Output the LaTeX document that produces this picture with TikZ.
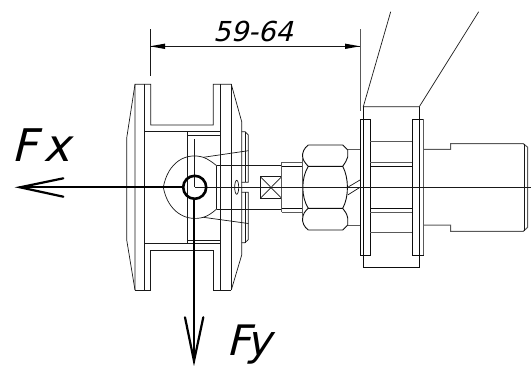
\documentclass[tikz,border=0pt]{standalone}
\usepackage{fontspec}
\setmainfont{DejaVu Sans}
\newfontfamily\slantlab[FakeSlant=0.25]{DejaVu Sans}
\tikzset{
  every picture/.style={x=1pt,y=-1pt},
  ln/.style={line width=0.7pt,black!90},
  hv/.style={line width=0.9pt,black!95},
  gr/.style={line width=1pt,black!65},
  force/.style={line width=2.2pt,black,line cap=round},
  lab/.style={font=\slantlab\fontsize{45}{45}\selectfont,inner sep=0pt,anchor=base west},
  laby/.style={font=\slantlab\fontsize{42}{42}\selectfont,inner sep=0pt,anchor=base west},
  dimtext/.style={font=\slantlab\fontsize{27.5}{28}\selectfont,inner sep=0pt,anchor=base},
  dimtip/.style={black,fill=black}
}
\begin{document}
\begin{tikzpicture}
\useasboundingbox (0,0) rectangle (531,365);
% --- dimension
\coordinate (dl) at (150,46.3);
\coordinate (dr) at (360,46.3);
\draw[ln] (150,29) -- (150,76);
\draw[gr] (360,29) -- (360,110.7);
\draw[ln] (dl) -- (dr);
\fill[dimtip] (dl) -- (165,43.6) -- (165,49) -- cycle;
\fill[dimtip] (dr) -- (345,43.6) -- (345,49) -- cycle;
\node[dimtext] (dim) at (253,41) {59-64};
% --- slanted lines
\draw[ln] (390.7,11.7) -- (363.3,106.7) -- (419.3,106.7) -- (478.7,11.7);
% --- left flange
\draw[ln] (135,84.3) -- (126.7,138) -- (126.7,240) -- (135,290);
\draw[ln] (135,290) -- (135,84.3) -- (150.7,84.3) -- (150.7,125) -- (213.3,125) -- (213.3,84.3) -- (231.3,84.3) -- (241.7,121.7) -- (241.7,255) -- (231.3,290);
\draw[ln] (144.3,84.3) -- (144.3,290);
\draw[ln] (135,290) -- (150.7,290) -- (150.7,250.7) -- (213.3,250.7) -- (213.3,290) -- (231.3,290);
\draw[ln] (220.7,84.3) -- (220.7,290);
\draw[ln] (231.3,84.3) -- (231.3,290);
\draw[ln] (144.3,131.7) -- (220.7,131.7);
\draw[ln] (144.3,243.3) -- (220.7,243.3);
% --- inner box
\draw[ln] (187.7,131.7) -- (187.7,243.3);
\draw[ln] (187.7,135.7) -- (220.7,135.7);
\draw[ln] (187.7,240) -- (220.7,240);
% --- pads
\draw[ln] (241.7,131.7) -- (245,131.7) -- (248.3,135) -- (248.3,182.3) -- (241.7,182.3);
\draw[ln] (241.7,192.3) -- (248.3,192.3) -- (248.3,239.5) -- (245,242.7) -- (241.7,242.7);
\draw[ln] (245,131.7) -- (245,182.3);
\draw[ln] (245,192.3) -- (245,242.7);
% --- eye
\coordinate (ctr) at (194.7,187.3);
\draw[ln] (216.7,165.7) .. controls (212,162) and (208,159) .. (203.3,157.3)
  .. controls (186,152) and (168,162) .. (163.3,187.3)
  .. controls (168,212) and (186,222) .. (203.3,217.3)
  .. controls (208,216) and (212,213) .. (216.7,209);
\draw[ln] (203.3,157.3) -- (248.3,150.7);
\draw[ln] (203.3,217.3) -- (248.3,223.5);
\draw[ln] (216.7,165.7) -- (216.7,209);
\draw[ln] (216.7,165.7) -- (281.7,165.7);
\draw[ln] (216.7,209) -- (281.7,209);
\draw[ln] (236.7,187.3) ellipse [x radius=2,y radius=7];
% --- square drive
\draw[ln] (260.3,176.7) rectangle (281.7,198.3);
\draw[ln] (260.3,176.7) -- (281.7,198.3);
\draw[ln] (260.3,198.3) -- (281.7,176.7);
% --- neck
\draw[gr] (281.7,212) -- (281.7,162.7) -- (302.7,162.7);
\draw[gr] (281.7,212) -- (302.7,212);
\draw[hv] (281.7,166.3) -- (302.7,166.3);
\draw[hv] (281.7,208.3) -- (302.7,208.3);
% --- nut
\draw[hv] (308.3,145) -- (342.7,145) -- (347.7,150);
\draw[hv] (308.3,230) -- (342.7,230) -- (347.7,225);
\draw[hv] (308.3,145) .. controls (304,148) and (302,153) .. (302.7,157)
  .. controls (303,160) and (305,163) .. (308.3,166.3)
  -- (342.7,166.3)
  .. controls (345,163) and (347,160) .. (347.7,157) -- (347.7,150);
\draw[hv] (308.3,230) .. controls (304,227) and (302,222) .. (302.7,218)
  .. controls (303,214) and (305,211) .. (308.3,208.3)
  -- (342.7,208.3)
  .. controls (345,211) and (347,214) .. (347.7,218) -- (347.7,225);
\draw[hv] (308.3,166.3) .. controls (301,178) and (301,197) .. (308.3,208.3);
\draw[hv] (342.7,166.3) .. controls (349,178) and (349,197) .. (342.7,208.3);
\draw[gr] (302.7,157) -- (302.7,218);
% --- washer
\draw[gr] (347.7,149.7) -- (360,149.7);
\draw[gr] (347.7,225) -- (360,225);
\draw[ln] (347.7,187.3) -- (360,180);
\draw[ln] (347.7,195) -- (360,187.3);
% --- outer plates
\draw[gr] (360,119.3) -- (360,255.3);
\draw[hv] (360,119.3) rectangle (370.3,255.3);
\draw[hv] (363.3,119.3) -- (363.3,106.7);
\draw[hv] (363.3,119.3) -- (363.3,255.3);
\draw[hv] (412.3,119.3) rectangle (423,255.3);
\draw[hv] (419.3,119.3) -- (419.3,106.7);
\draw[gr] (423,119.3) -- (423,255.3);
\draw[hv] (419.3,119.3) -- (419.3,255.3);
\draw[hv] (363.3,255.3) -- (363.3,267.3) -- (419.3,267.3) -- (419.3,255.3);
% --- between plates
\draw[gr] (370.3,141.7) -- (412.3,141.7);
\draw[gr] (370.3,162.7) -- (412.3,162.7);
\draw[hv] (370.3,166) -- (412.3,166);
\draw[hv] (370.3,208.3) -- (412.3,208.3);
\draw[gr] (370.3,212.3) -- (412.3,212.3);
\draw[gr] (370.3,232.7) -- (412.3,232.7);
% --- right shaft
\draw[gr] (423,149.3) -- (450.7,149.3) -- (450.7,143.7) -- (523.3,143.7) -- (527.7,147.3) -- (527.7,227.3) -- (523.3,231.3) -- (450.7,231.3) -- (450.7,225) -- (423,225);
\draw[ln] (524.3,143.7) -- (524.3,231.3);
% --- centre lines
\draw[ln] (ctr) -- (531,187.3);
\draw[ln] (194.7,139) -- (ctr);
% --- forces
\draw[line width=2.6pt,black] (ctr) circle [radius=11.5];
\coordinate (fxtip) at (20,187.3);
\coordinate (fytip) at (194,361);
\draw[force] (183,187.3) -- (fxtip);
\draw[force] (63.3,178.3) -- (fxtip) -- (63.3,196.7);
\draw[force] (194,199) -- (fytip);
\draw[force] (185,317.3) -- (fytip) -- (203.3,317.3);
\node[lab] (fx) at (11,161.5) {F};
\node[lab] (fxb) at (43,161.5) {x};
\node[laby] (fy) at (226,355) {Fy};
\end{tikzpicture}
\end{document}
